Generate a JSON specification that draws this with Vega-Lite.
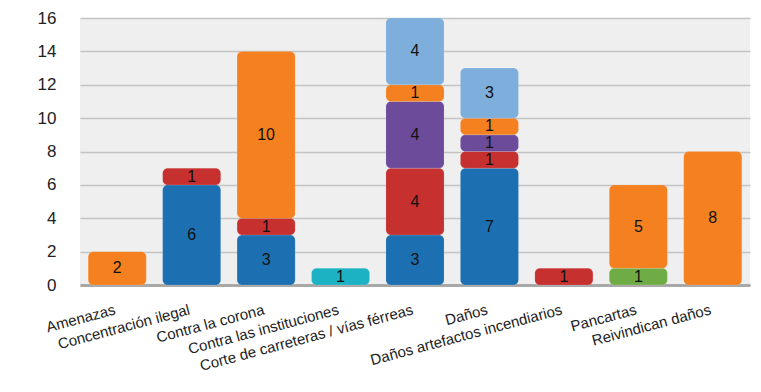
{
  "$schema": "https://vega.github.io/schema/vega-lite/v6.json",
  "autosize": "none",
  "width": 670,
  "height": 267,
  "padding": {"left": 80, "top": 18, "right": 11, "bottom": 107},
  "background": "#ffffff",
  "config": {
    "view": {"fill": "#efefef", "stroke": null},
    "font": "Liberation Sans",
    "axisY": {
      "values": [0, 2, 4, 6, 8, 10, 12, 14, 16],
      "labelFontSize": 17,
      "labelColor": "#222222",
      "labelPadding": 24,
      "ticks": false,
      "domain": false,
      "gridColor": "#c4c4c4",
      "gridWidth": 1.5
    }
  },
  "data": {
    "values": [
      {"cat": "Amenazas", "serie": "S5", "n": 2},
      {"cat": "Concentración ilegal", "serie": "S2", "n": 6},
      {"cat": "Concentración ilegal", "serie": "S3", "n": 1},
      {"cat": "Contra la corona", "serie": "S2", "n": 3},
      {"cat": "Contra la corona", "serie": "S3", "n": 1},
      {"cat": "Contra la corona", "serie": "S5", "n": 10},
      {"cat": "Contra las instituciones", "serie": "S7", "n": 1},
      {"cat": "Corte de carreteras / vías férreas", "serie": "S2", "n": 3},
      {"cat": "Corte de carreteras / vías férreas", "serie": "S3", "n": 4},
      {"cat": "Corte de carreteras / vías férreas", "serie": "S4", "n": 4},
      {"cat": "Corte de carreteras / vías férreas", "serie": "S5", "n": 1},
      {"cat": "Corte de carreteras / vías férreas", "serie": "S6", "n": 4},
      {"cat": "Daños", "serie": "S2", "n": 7},
      {"cat": "Daños", "serie": "S3", "n": 1},
      {"cat": "Daños", "serie": "S4", "n": 1},
      {"cat": "Daños", "serie": "S5", "n": 1},
      {"cat": "Daños", "serie": "S6", "n": 3},
      {"cat": "Daños artefactos incendiarios", "serie": "S3", "n": 1},
      {"cat": "Pancartas", "serie": "S1", "n": 1},
      {"cat": "Pancartas", "serie": "S5", "n": 5},
      {"cat": "Reivindican daños", "serie": "S5", "n": 8}
    ]
  },
  "transform": [
    {"stack": "n", "groupby": ["cat"], "sort": [{"field": "serie", "order": "ascending"}], "as": ["y0", "y1"]},
    {"calculate": "(datum.y0 + datum.y1) / 2", "as": "ymid"}
  ],
  "encoding": {
    "x": {
      "field": "cat",
      "type": "nominal",
      "sort": null,
      "title": null,
      "scale": {"paddingInner": 0.22, "paddingOuter": 0.11},
      "axis": {
        "labelAngle": -15,
        "labelAlign": "right",
        "labelBaseline": "top",
        "labelFontSize": 15,
        "labelColor": "#222222",
        "labelPadding": 17,
        "labelOffset": -4,
        "ticks": false,
        "domainColor": "#a8a8a8",
        "domainWidth": 3,
        "labelLimit": 400
      }
    }
  },
  "layer": [
    {
      "mark": {"type": "bar", "cornerRadius": 5, "stroke": "#ffffff", "strokeOpacity": 0.25, "strokeWidth": 0.5},
      "encoding": {
        "y": {
          "field": "y0",
          "type": "quantitative",
          "scale": {"domain": [0, 16]},
          "title": null
        },
        "y2": {"field": "y1"},
        "color": {
          "field": "serie",
          "type": "nominal",
          "legend": null,
          "scale": {
            "domain": ["S1", "S2", "S3", "S4", "S5", "S6", "S7"],
            "range": ["#6fac46", "#1c70b2", "#c6302f", "#6c4b9b", "#f4801f", "#7eaedc", "#1cb2c4"]
          }
        }
      }
    },
    {
      "mark": {"type": "text", "fontSize": 16, "color": "#111111", "baseline": "middle"},
      "encoding": {
        "y": {"field": "ymid", "type": "quantitative", "title": null},
        "text": {"field": "n", "type": "quantitative"}
      }
    }
  ]
}
